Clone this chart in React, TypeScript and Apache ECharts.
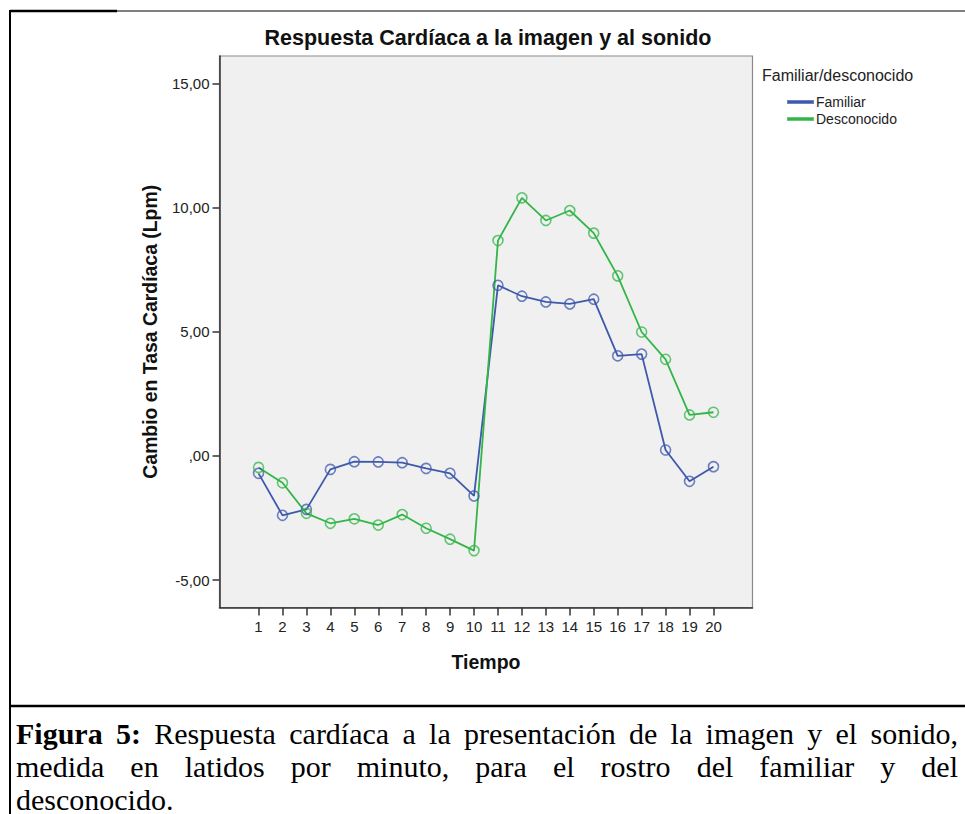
import React, { useEffect, useRef } from "react";
import * as echarts from "echarts";

const tiempo = [1, 2, 3, 4, 5, 6, 7, 8, 9, 10, 11, 12, 13, 14, 15, 16, 17, 18, 19, 20];
const familiar = [-0.70, -2.39, -2.15, -0.54, -0.23, -0.24, -0.27, -0.50, -0.70, -1.61, 6.87, 6.43, 6.20, 6.12, 6.31, 4.03, 4.10, 0.24, -1.02, -0.43];
const desconocido = [-0.46, -1.08, -2.31, -2.71, -2.53, -2.78, -2.36, -2.91, -3.35, -3.81, 8.67, 10.39, 9.48, 9.88, 8.97, 7.25, 4.99, 3.89, 1.65, 1.76];
const yTicks = [-5, 0, 5, 10, 15];
const seriesNames = ["Familiar", "Desconocido"];

const title = "Respuesta Cardíaca a la imagen y al sonido";
const legendTitle = "Familiar/desconocido";
const yName = "Cambio en Tasa Cardíaca (Lpm)";
const xName = "Tiempo";
const captionLine1Bold = ["Figura", "5:"];
const captionLine1 = "Respuesta cardíaca a la presentación de la imagen y el sonido,";
const captionLine2 = "medida en latidos por minuto, para el rostro del familiar y del";
const captionLine3 = "desconocido.";

const BLUE = "#3E58AC";
const GREEN = "#33B548";
const SANS = "'Liberation Sans', Arial, sans-serif";
const SERIF = "'Liberation Serif', 'Times New Roman', serif";

type Word = { t: string; bold: boolean };

function measure(words: Word[], size: number) {
  const ctx = document.createElement("canvas").getContext("2d")!;
  return words.map((w) => {
    ctx.font = `${w.bold ? "bold " : ""}${size}px ${SERIF}`;
    return ctx.measureText(w.t).width;
  });
}

function justify(words: Word[], left: number, right: number, y: number, size: number) {
  const widths = measure(words, size);
  const sum = widths.reduce((a, b) => a + b, 0);
  const gap = (right - left - sum) / (words.length - 1);
  let x = left;
  return words.map((w, i) => {
    const el = {
      type: "text",
      x,
      y,
      style: {
        text: w.t,
        fontFamily: SERIF,
        fontSize: size,
        fontWeight: w.bold ? "bold" : "normal",
        fill: "#000",
        textVerticalAlign: "middle",
      },
    };
    x += widths[i] + gap;
    return el;
  });
}

const fmtY = (v: number) => (v === 0 ? ",00" : v.toFixed(2).replace(".", ","));

export default function App() {
  const ref = useRef<HTMLDivElement>(null);
  useEffect(() => {
    const chart = echarts.init(ref.current!, null, { renderer: "svg" });
    const line1Words: Word[] = [
      ...captionLine1Bold.map((t) => ({ t, bold: true })),
      ...captionLine1.split(" ").map((t) => ({ t, bold: false })),
    ];
    const line2Words: Word[] = captionLine2.split(" ").map((t) => ({ t, bold: false }));
    // choose font size so that the first caption line fits the text box with natural spacing
    const base = 100;
    const w1 = measure(line1Words, base).reduce((a, b) => a + b, 0);
    const spaceW = measure([{ t: " ", bold: false }], base)[0];
    const natural = w1 + spaceW * (line1Words.length - 1);
    const capSize = Math.min(30, (base * 942) / natural);
    chart.setOption({
      animation: false,
      backgroundColor: "#fff",
      grid: {
        left: 219.5,
        top: 56,
        right: 965 - 752.5,
        bottom: 814 - 607.5,
        show: true,
        backgroundColor: "#f0f0f0",
        borderColor: "#8a8a8a",
        borderWidth: 1.2,
      },
      legend: {
        left: 782,
        top: 90,
        orient: "vertical",
        icon: "rect",
        itemWidth: 25,
        itemHeight: 2,
        itemGap: 3,
        textStyle: { fontFamily: SANS, fontSize: 14, color: "#222", padding: [0, 0, 0, -2] },
        data: [
          { name: seriesNames[0], itemStyle: { color: BLUE } },
          { name: seriesNames[1], itemStyle: { color: GREEN } },
        ],
      },
      xAxis: {
        type: "value",
        min: -0.63,
        max: 21.63,
        name: xName,
        nameLocation: "middle",
        nameGap: 44,
        nameTextStyle: { fontFamily: SANS, fontSize: 19.5, fontWeight: "bold", color: "#111" },
        axisLine: { show: true, onZero: false, lineStyle: { color: "#333", width: 1.5 } },
        axisTick: { show: true, length: 8, lineStyle: { color: "#333", width: 1.5 }, customValues: tiempo },
        axisLabel: {
          customValues: tiempo,
          fontFamily: SANS,
          fontSize: 15,
          color: "#222",
          margin: 11,
          formatter: (v: number) => String(v),
        },
        splitLine: { show: false },
      },
      yAxis: {
        type: "value",
        min: -6.1,
        max: 16.1,
        name: yName,
        nameLocation: "middle",
        nameGap: 60,
        nameTextStyle: { fontFamily: SANS, fontSize: 19.4, fontWeight: "bold", color: "#111" },
        axisLine: { show: true, onZero: false, lineStyle: { color: "#333", width: 1.5 } },
        axisTick: { show: true, length: 7, lineStyle: { color: "#333", width: 1.5 }, customValues: yTicks },
        axisLabel: {
          customValues: yTicks,
          fontFamily: SANS,
          fontSize: 15,
          color: "#222",
          margin: 10,
          formatter: fmtY,
        },
        splitLine: { show: false },
      },
      series: [
        {
          name: seriesNames[0],
          type: "line",
          data: tiempo.map((t, i) => [t, familiar[i]]),
          symbol: "circle",
          symbolSize: 10,
          lineStyle: { color: BLUE, width: 1.8 },
          itemStyle: { color: "rgba(0,0,0,0)", borderColor: "rgba(62,88,172,0.75)", borderWidth: 1.6 },
        },
        {
          name: seriesNames[1],
          type: "line",
          data: tiempo.map((t, i) => [t, desconocido[i]]),
          symbol: "circle",
          symbolSize: 10,
          lineStyle: { color: GREEN, width: 1.8 },
          itemStyle: { color: "rgba(0,0,0,0)", borderColor: "rgba(51,181,72,0.75)", borderWidth: 1.6 },
        },
      ],
      graphic: [
        {
          type: "text",
          x: 488,
          y: 38,
          style: {
            text: title,
            fontFamily: SANS,
            fontSize: 21.5,
            fontWeight: "bold",
            fill: "#111",
            textAlign: "center",
            textVerticalAlign: "middle",
          },
        },
        {
          type: "text",
          x: 762,
          y: 75,
          style: {
            text: legendTitle,
            fontFamily: SANS,
            fontSize: 16,
            fill: "#222",
            textVerticalAlign: "middle",
          },
        },
        { type: "line", shape: { x1: 10, y1: 11, x2: 117, y2: 11 }, style: { stroke: "#000", lineWidth: 2.5 } },
        { type: "line", shape: { x1: 117, y1: 11, x2: 965, y2: 11 }, style: { stroke: "#000", lineWidth: 1 } },
        { type: "line", shape: { x1: 10, y1: 10, x2: 10, y2: 814 }, style: { stroke: "#000", lineWidth: 2 } },
        { type: "line", shape: { x1: 9, y1: 706, x2: 965, y2: 706 }, style: { stroke: "#000", lineWidth: 2.5 } },
        ...justify(line1Words, 16, 958, 733, capSize),
        ...justify(line2Words, 16, 958, 766, capSize),
        {
          type: "text",
          x: 16,
          y: 799,
          style: { text: captionLine3, fontFamily: SERIF, fontSize: capSize, fill: "#000", textVerticalAlign: "middle" },
        },
      ],
    });
    return () => chart.dispose();
  }, []);
  return (
    <div
      ref={ref}
      style={{ position: "absolute", left: 0, top: 0, width: 965, height: 814, background: "#fff" }}
    />
  );
}
